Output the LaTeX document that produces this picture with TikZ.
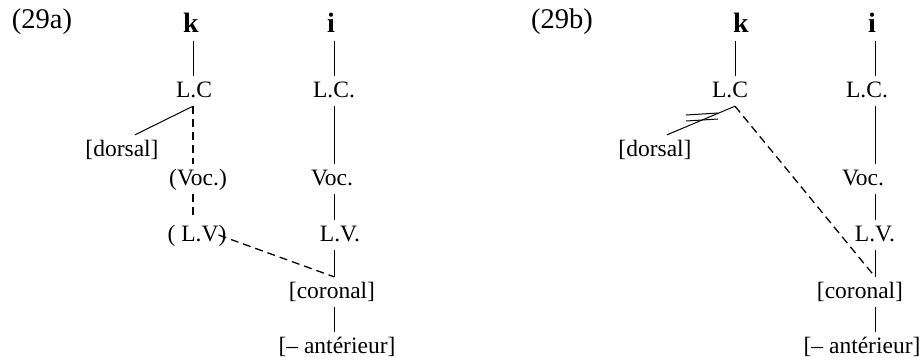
\documentclass[tikz,border=0pt]{standalone}
\usepackage{fontspec}
\setmainfont{Liberation Serif}
\usepackage{tikz}
\usetikzlibrary{calc}

\begin{document}
\begin{tikzpicture}[
    x=1pt, y=-1pt,
    every node/.style={font=\fontsize{23.5}{28}\selectfont, inner sep=4pt,
        text height=17pt, text depth=5pt, anchor=base},
    seg/.style={font=\fontsize{28}{32}\selectfont\bfseries},
    exnum/.style={font=\fontsize{28.5}{32}\selectfont},
    link/.style={line width=1pt},
    dlink/.style={line width=1.3pt, dash pattern=on 8pt off 5pt}
]
\useasboundingbox (0,0) rectangle (922,360);

% spines of the four columns
\coordinate (sA) at (193,0);
\coordinate (sB) at (334,0);
\coordinate (sC) at (735,0);
\coordinate (sD) at (875,0);

% (29a)
\node[exnum] (laba) at (42,28) {(29a)};
\node[seg] (ka) at (191,32) {k};
\node (lca) at (194,97) {L.C};
\node (dora) at (122,156) {[dorsal]};
\node (voca) at (198,185) {(Voc.)};
\node (lva) at (197,241) {( L.V)};
\node[seg] (ia) at (331,32) {i};
\node (lcia) at (334,97) {L.C.};
\node (vocia) at (332,185) {Voc.};
\node (lvia) at (340,241) {L.V.};
\node (cora) at (332,298) {[coronal]};
\node (anta) at (337,353) {[-- antérieur]};

\draw[link] (ka.south -| sA) -- (lca.north -| sA);
\draw[link] (lca.south -| sA) -- ([xshift=13pt]dora.north);
\draw[dlink] (lca.south -| sA) -- (voca.north -| sA);
\draw[dlink] (voca.south -| sA) -- (lva.north -| sA);
\draw[dlink] ([xshift=-12pt]lva.east) -- (cora.north -| sB);
\draw[link] (ia.south -| sB) -- (lcia.north -| sB);
\draw[link] (lcia.south -| sB) -- (vocia.north -| sB);
\draw[link] (vocia.south -| sB) -- (lvia.north -| sB);
\draw[link] (lvia.south -| sB) -- (cora.north -| sB);
\draw[link] (cora.south -| sB) -- (anta.north -| sB);

% (29b)
\node[exnum] (labb) at (562,28) {(29b)};
\node[seg] (kb) at (741,32) {k};
\node (lcb) at (730,97) {L.C};
\node (dorb) at (655,156) {[dorsal]};
\node[seg] (ib) at (872,32) {i};
\node (lcib) at (867,97) {L.C.};
\node (vocib) at (863,185) {Voc.};
\node (lvib) at (875,241) {L.V.};
\node (corb) at (860,298) {[coronal]};
\node (antb) at (862,353) {[-- antérieur]};

\draw[link] (kb.south -| sC) -- (lcb.north -| sC);
\draw[link] (lcb.south -| sC) -- ([xshift=12pt]dorb.north);
\draw[link] (686,115) -- (718,113);
\draw[link] (686,121) -- (718,119);
\draw[dlink] (lcb.south -| sC) -- (corb.north -| sD);
\draw[link] (ib.south -| sD) -- (lcib.north -| sD);
\draw[link] (lcib.south -| sD) -- (vocib.north -| sD);
\draw[link] (vocib.south -| sD) -- (lvib.north -| sD);
\draw[link] (lvib.south -| sD) -- (corb.north -| sD);
\draw[link] (corb.south -| sD) -- (antb.north -| sD);
\end{tikzpicture}
\end{document}
